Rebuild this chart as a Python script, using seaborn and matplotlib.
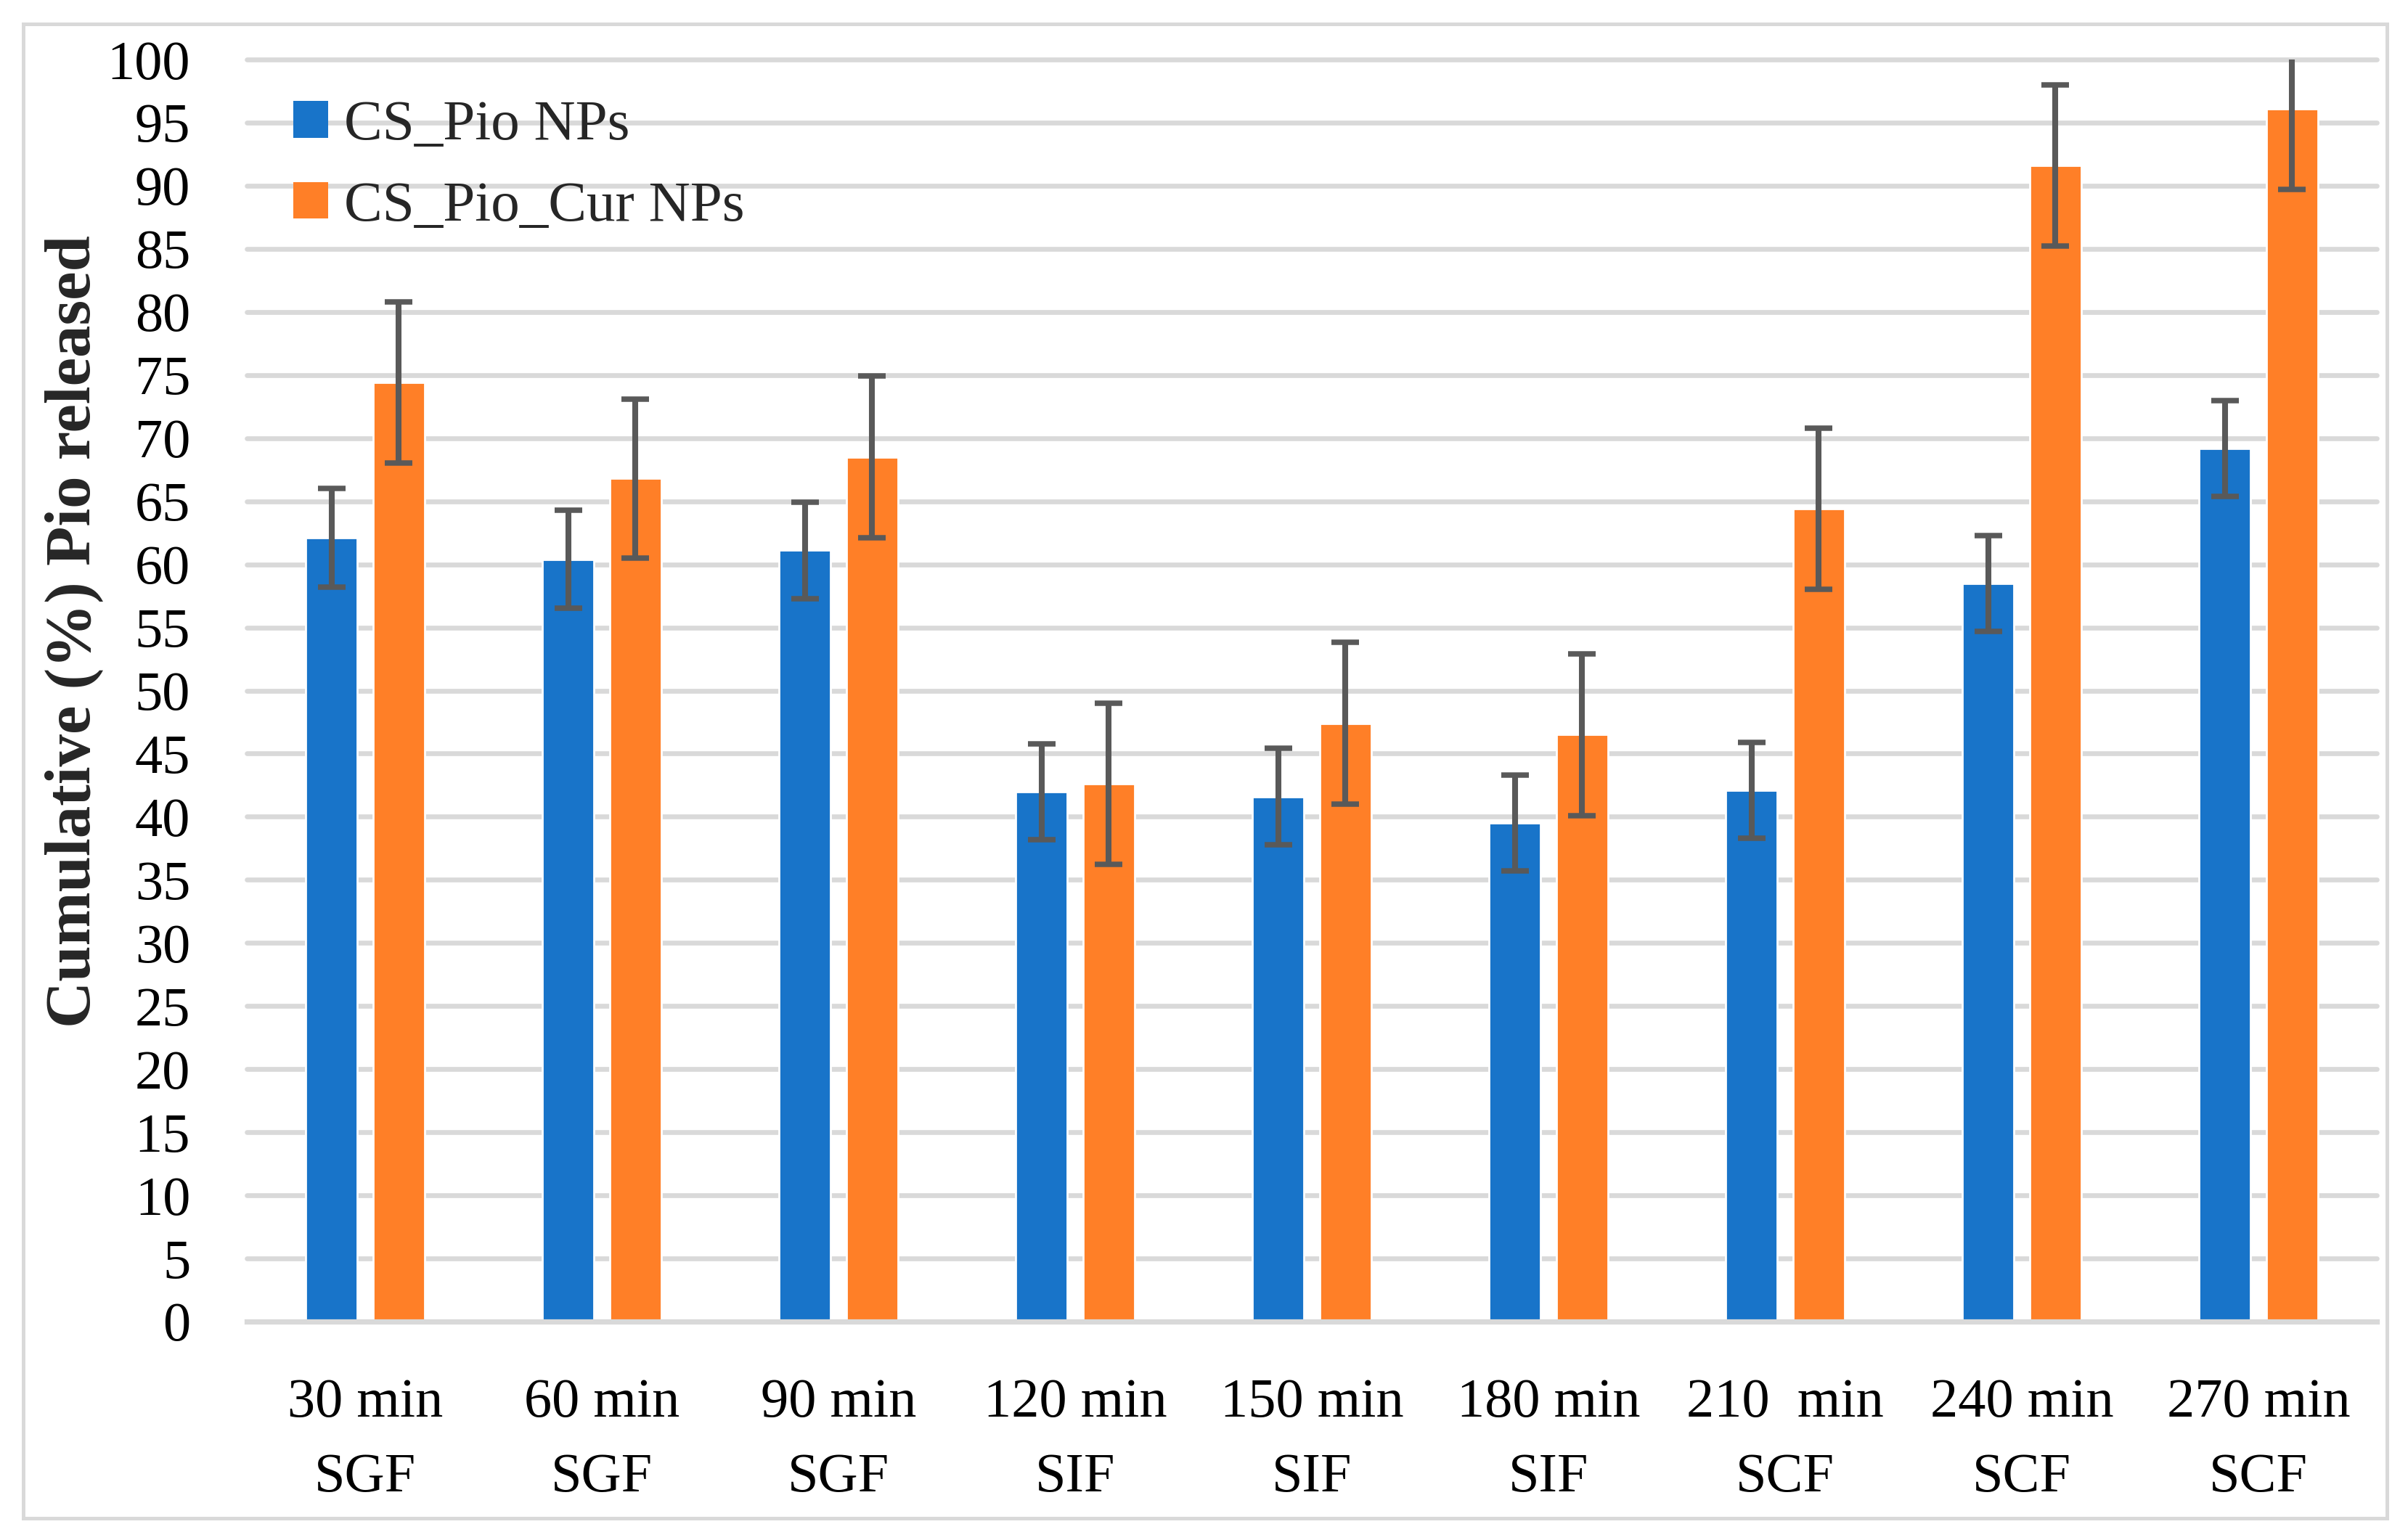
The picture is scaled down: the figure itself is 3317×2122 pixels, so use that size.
import numpy as np
import pandas as pd
import matplotlib
matplotlib.use("Agg")
import matplotlib.pyplot as plt
import seaborn as sns
from matplotlib.patches import Rectangle, Patch

# --- data
time_labels = ['30 min\nSGF', '60 min\nSGF', '90 min\nSGF', '120 min\nSIF', '150 min\nSIF',
               '180 min\nSIF', '210  min\nSCF', '240 min\nSCF', '270 min\nSCF']
series_names = ['CS_Pio NPs', 'CS_Pio_Cur NPs']
cs_pio = [62.1, 60.4, 61.1, 42.0, 41.6, 39.5, 42.1, 58.5, 69.2]
cs_pio_sd = [3.9, 3.9, 3.8, 3.8, 3.8, 3.8, 3.8, 3.8, 3.8]
cs_pio_cur = [74.4, 66.8, 68.5, 42.6, 47.4, 46.5, 64.4, 91.6, 96.1]
cs_pio_cur_sd = [6.4, 6.3, 6.4, 6.4, 6.4, 6.4, 6.4, 6.4, 6.4]
colors = ['#1874c9', '#ff7f27']

df = pd.DataFrame({
    'time': time_labels * 2,
    'series': [series_names[0]] * len(time_labels) + [series_names[1]] * len(time_labels),
    'value': cs_pio + cs_pio_cur,
    'sd': cs_pio_sd + cs_pio_cur_sd,
})

sns.set_style('white')
plt.rcParams['font.family'] = ['Liberation Serif', 'DejaVu Serif']

fig = plt.figure(figsize=(16.585, 10.61), dpi=200)
ax = fig.add_axes([340 / 3317, 1 - 1821 / 2122, (3274 - 340) / 3317, (1821 - 82) / 2122])

sns.barplot(data=df, x='time', y='value', hue='series', order=time_labels,
            hue_order=series_names, palette=colors, width=0.57, gap=0.23,
            errorbar=None, saturation=1, legend=False, ax=ax)

# error bars on top of each bar container
for cont, name in zip(ax.containers, series_names):
    sub = df[df['series'] == name]
    xs = [p.get_x() + p.get_width() / 2 for p in cont.patches]
    ax.errorbar(xs, sub['value'].values, yerr=sub['sd'].values, fmt='none',
                ecolor='#595959', elinewidth=2.9, capsize=7, capthick=2.7, zorder=4)

ax.set_ylim(0, 100)
ax.set_xlim(-0.5, len(time_labels) - 0.5)
ax.set_yticks(np.arange(0, 101, 5))
ax.yaxis.grid(True, color='#d9d9d9', linewidth=2.4)
ax.set_axisbelow(True)
for gl in ax.get_ygridlines():
    gl.set_clip_on(False)
for s in ['top', 'left', 'right']:
    ax.spines[s].set_visible(False)
ax.spines['bottom'].set_color('#d9d9d9')
ax.spines['bottom'].set_linewidth(2.6)

ax.set_xlabel('')
ax.set_xticks(range(len(time_labels)))
ax.set_xticklabels(time_labels, linespacing=1.64)
ax.tick_params(axis='x', length=0, pad=28, labelsize=27.5, colors='black')
ax.tick_params(axis='y', length=0, pad=28, labelsize=27.5, colors='black')

ax.set_ylabel('Cumulative (%) Pio released', fontsize=32, fontweight='bold')
ax.yaxis.set_label_coords(-0.0675, 0.547)

handles = [Patch(facecolor=c, edgecolor='none') for c in colors]
ax.legend(handles, series_names, loc='upper left',
          bbox_to_anchor=(404 / 3317, 1 - 138 / 2122), bbox_transform=fig.transFigure,
          frameon=False, fontsize=28.5, handlelength=0.6, handleheight=0.6,
          handletextpad=0.28, labelspacing=0.5, borderpad=0, borderaxespad=0)

# outer chart frame
fig.patches.append(Rectangle((32 / 3317, 1 - 2092 / 2122), (3288 - 32) / 3317, (2092 - 33) / 2122,
                             transform=fig.transFigure, fill=False, edgecolor='#d9d9d9',
                             linewidth=1.8, zorder=0))

fig.savefig('out.png', dpi=200, facecolor='white')
